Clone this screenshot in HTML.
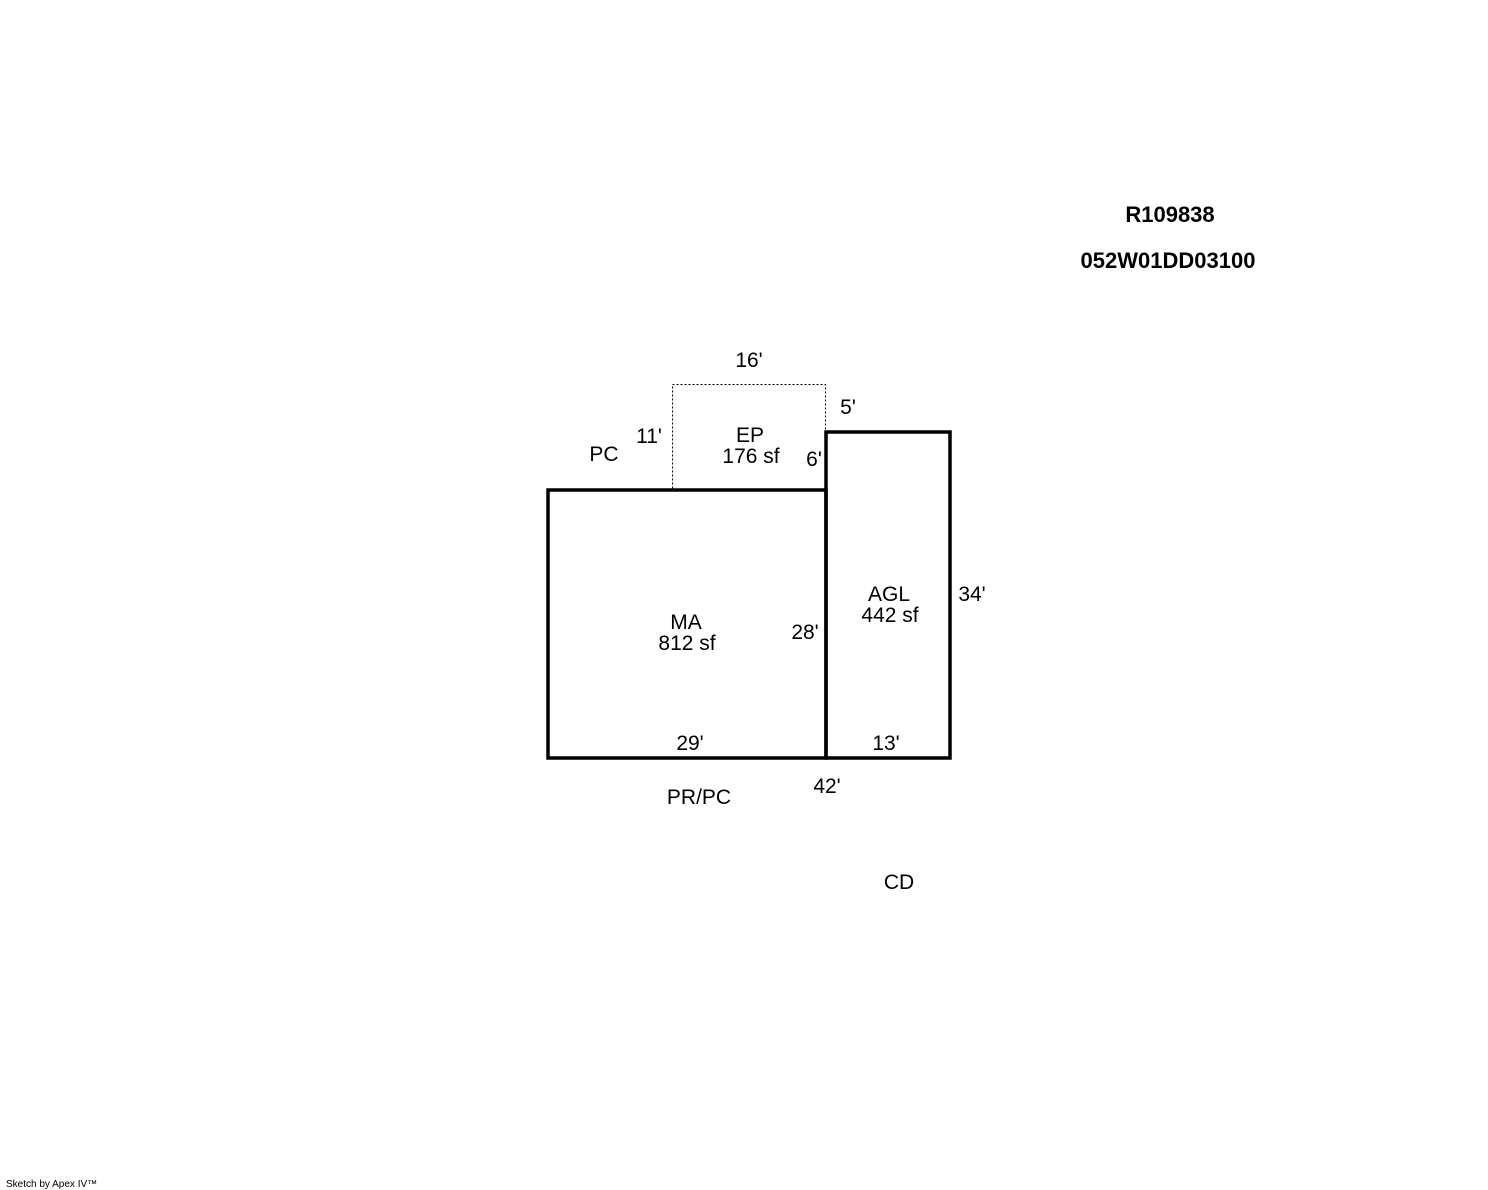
<!DOCTYPE html>
<html><head><meta charset="utf-8"><style>
html,body{margin:0;padding:0;background:#fff;width:1488px;height:1190px;overflow:hidden}
svg{display:block}
text{font-family:"Liberation Sans",Arial,sans-serif;font-size:21px;fill:#000}
</style></head><body>
<svg width="1488" height="1190" viewBox="0 0 1488 1190" xmlns="http://www.w3.org/2000/svg">
<rect x="672.5" y="384.5" width="153" height="105" fill="none" stroke="#000" stroke-width="1" stroke-dasharray="2,2"/>
<rect x="548" y="490" width="278" height="268" fill="none" stroke="#000" stroke-width="3.5"/>
<rect x="826" y="432" width="124" height="326" fill="none" stroke="#000" stroke-width="3.5"/>
<g text-anchor="middle">
<text x="1170" y="222" font-weight="bold" style="font-size:22px">R109838</text>
<text x="1168" y="268" font-weight="bold" style="font-size:22px">052W01DD03100</text>
<text x="749" y="367">16'</text>
<text x="848" y="414">5'</text>
<text x="649" y="443">11'</text>
<text x="604" y="461">PC</text>
<text x="750" y="442">EP</text>
<text x="751" y="463">176 sf</text>
<text x="814" y="466">6'</text>
<text x="889" y="601">AGL</text>
<text x="890" y="622">442 sf</text>
<text x="972" y="601">34'</text>
<text x="686" y="629">MA</text>
<text x="687" y="650">812 sf</text>
<text x="805" y="639">28'</text>
<text x="690" y="750">29'</text>
<text x="886" y="750">13'</text>
<text x="827" y="793">42'</text>
<text x="699" y="804">PR/PC</text>
<text x="899" y="889">CD</text>
</g>
<text x="6" y="1187" style="font-size:10px">Sketch by Apex IV™</text>
</svg>
</body></html>
